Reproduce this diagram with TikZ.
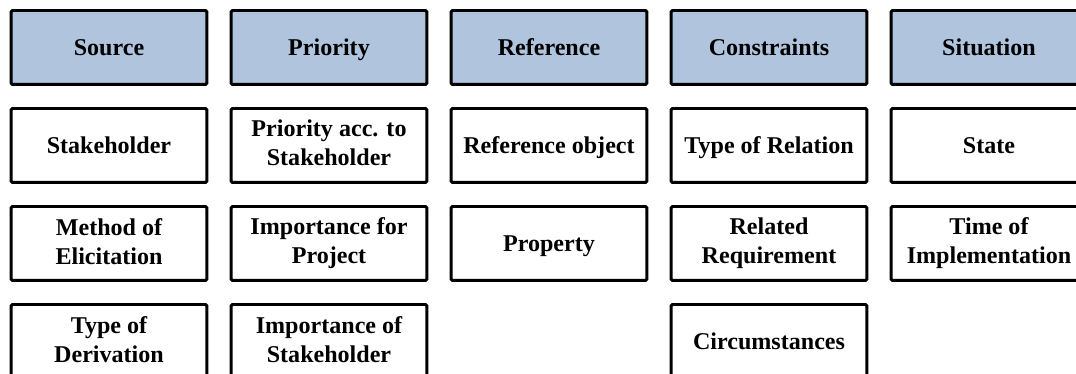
\documentclass[tikz,border=0pt]{standalone}
\usepackage{fontspec}
\setmainfont{Liberation Serif}
\definecolor{headblue}{RGB}{176,196,222}
\newcommand\cellstrut{\rule[-2.8pt]{0pt}{14.8pt}}

\begin{document}
\begin{tikzpicture}[x=0.02cm, y=-0.02cm,
        cell/.style={draw, line width=1.7pt, rounded corners=0.8pt, minimum width=3.92cm, minimum height=1.48cm,
            align=center, inner sep=1pt, font=\fontsize{13.7}{16.5}\selectfont\bfseries,
            execute at begin node=\cellstrut, execute at end node=\cellstrut},
        head/.style={cell, fill=headblue}]
        \useasboundingbox (0,0) rectangle (1076,374);
        \clip (0,0) rectangle (1076,374);

        \node[head] (source) at (109, 47.5) {Source};
        \node[head] (priority) at (329, 47.5) {Priority};
        \node[head] (reference) at (549, 47.5) {Reference};
        \node[head] (constraints) at (769, 47.5) {Constraints};
        \node[head] (situation) at (989, 47.5) {Situation};

        \node[cell] (stakeholder) at (109, 145.5) {Stakeholder};
        \node[cell] (elicitation) at (109, 243.5) {Method of\\Elicitation};
        \node[cell] (derivation) at (109, 341.5) {Type of\\Derivation};

        \node[cell] (prioacc) at (329, 145.5) {Priority acc. to\\Stakeholder};
        \node[cell] (importproj) at (329, 243.5) {Importance for\\Project};
        \node[cell] (importstake) at (329, 341.5) {Importance of\\Stakeholder};

        \node[cell] (refobject) at (549, 145.5) {Reference object};
        \node[cell] (property) at (549, 243.5) {Property};

        \node[cell] (relation) at (769, 145.5) {Type of Relation};
        \node[cell] (relreq) at (769, 243.5) {Related\\Requirement};
        \node[cell] (circum) at (769, 341.5) {Circumstances};

        \node[cell] (state) at (989, 145.5) {State};
        \node[cell] (implement) at (989, 243.5) {Time of\\Implementation};
    \end{tikzpicture}
\end{document}
